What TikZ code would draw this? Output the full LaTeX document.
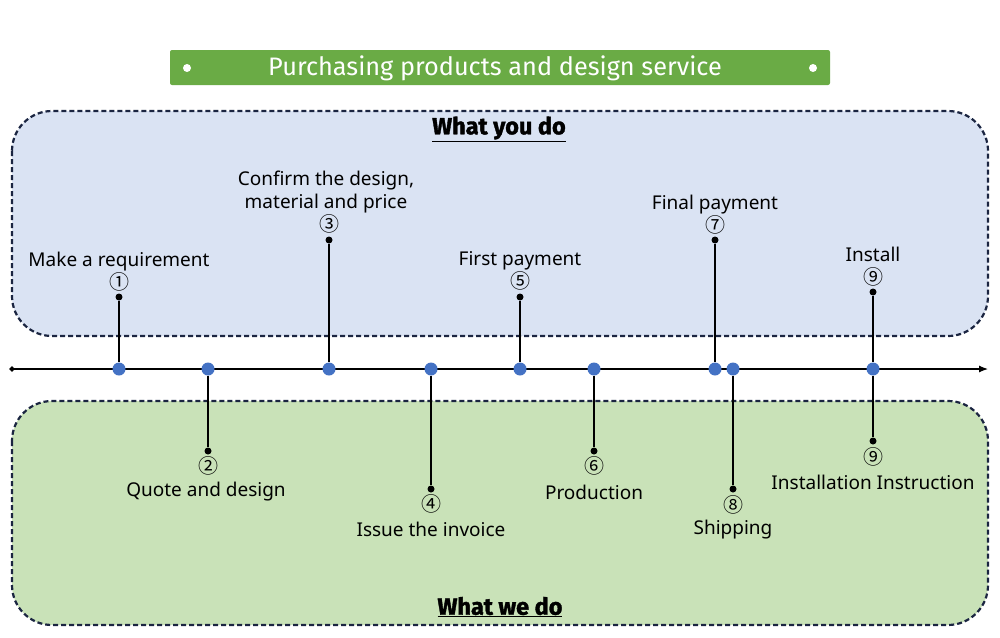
\documentclass[tikz,border=0pt]{standalone}
\usepackage{fontspec}
\usetikzlibrary{arrows.meta,shapes.geometric}
\setmainfont{Noto Sans}
\newfontfamily\numfont{Noto Sans CJK SC}
\newfontfamily\titlefont{Fira Sans}
\newfontfamily\headfont[FakeBold=1.5]{Fira Sans}
\definecolor{bluebox}{HTML}{DAE3F3}
\definecolor{greenbox}{HTML}{C9E2B8}
\definecolor{navy}{HTML}{1B2541}
\definecolor{titlegreen}{HTML}{6AAB45}
\definecolor{dotblue}{HTML}{4472C4}
\begin{document}
\begin{tikzpicture}[x=1pt,y=-1pt,
  zone/.style={draw=navy,line width=2.2pt,dash pattern=on 5pt off 3pt,rounded corners=40pt},
  lbl/.style={font=\fontsize{19}{23}\selectfont,text=black,inner sep=0pt,yshift=-2pt},
  num/.style={font=\numfont\fontsize{20}{20}\selectfont,text=black,inner sep=0pt},
  head/.style={font=\headfont\bfseries\fontsize{23.5}{26}\selectfont,inner sep=0pt},
  bdot/.style={circle,fill=dotblue,inner sep=0pt,minimum size=13pt},
  kdot/.style={circle,fill=black,inner sep=0pt,minimum size=7pt},
  stem/.style={line width=1.3pt,black}]
\useasboundingbox (0,0) rectangle (1000,637);
% title
\node[fill=titlegreen,rounded corners=2pt,minimum width=660pt,minimum height=35pt,inner sep=0pt] (title) at (500,67.5) {};
\node[font=\titlefont\fontsize{25.3}{28}\selectfont,text=white] (ttext) at (495,68) {Purchasing products and design service};
\node[circle,fill=white,inner sep=0pt,minimum size=8pt] (tdl) at (187,68) {};
\node[circle,fill=white,inner sep=0pt,minimum size=8pt] (tdr) at (813,68) {};
% zones
\draw[zone,fill=bluebox] (12,111) rectangle (988,336);
\draw[zone,fill=greenbox] (12,401) rectangle (988,625);
\node[head] (hyou) at (499,129) {\underline{What you do}};
\node[head] (hwe) at (500,607) {\underline{What we do}};
% axis
\coordinate (axl) at (12,369);
\coordinate (axr) at (988,369);
\draw[line width=1.2pt,-{Latex[length=9pt,width=7pt]}] (axl) -- (axr);
\node[diamond,fill=black,inner sep=0pt,minimum size=6pt] (axd) at (12,369) {};
% upper steps
\node[kdot] (k1) at (119,297) {};
\node[bdot] (b1) at (119,369) {};
\draw[stem] (k1) -- (b1);
\node[num] (n1) at (119,282) {①};
\node[lbl] (l1) at (119,260) {Make a requirement};
\node[kdot] (k5) at (520,297) {};
\node[bdot] (b5) at (520,369) {};
\draw[stem] (k5) -- (b5);
\node[num] (n5) at (520,281) {⑤};
\node[lbl] (l5) at (520,259) {First payment};
\node[kdot] (k9) at (873,292) {};
\node[kdot] (k9b) at (873,441) {};
\node[bdot] (b9) at (873,369) {};
\draw[stem] (k9) -- (b9);
\draw[stem] (b9) -- (k9b);
\node[num] (n9) at (873,277) {⑨};
\node[lbl] (l9) at (873,252) {Install};
\node[kdot] (k3) at (329,240) {};
\node[bdot] (b3) at (329,369) {};
\draw[stem] (k3) -- (b3);
\node[num] (n3) at (329,224) {③};
\node[lbl,align=center] (l3) at (326,190.5) {Confirm the design,\\material and price};
\node[kdot] (k7) at (715,240) {};
\node[bdot] (b7) at (715,369) {};
\draw[stem] (k7) -- (b7);
\node[num] (n7) at (715,225) {⑦};
\node[lbl] (l7) at (715,203) {Final payment};
% lower steps
\node[kdot] (k2) at (208,451) {};
\node[bdot] (b2) at (208,369) {};
\draw[stem] (b2) -- (k2);
\node[num] (n2) at (208,466) {②};
\node[lbl] (l2) at (206,490) {Quote and design};
\node[kdot] (k4) at (431,489) {};
\node[bdot] (b4) at (431,369) {};
\draw[stem] (b4) -- (k4);
\node[num] (n4) at (431,504) {④};
\node[lbl] (l4) at (431,527) {Issue the invoice};
\node[kdot] (k6) at (594,451) {};
\node[bdot] (b6) at (594,369) {};
\draw[stem] (b6) -- (k6);
\node[num] (n6) at (594,466) {⑥};
\node[lbl] (l6) at (594,490) {Production};
\node[kdot] (k8) at (733,489) {};
\node[bdot] (b8) at (733,369) {};
\draw[stem] (b8) -- (k8);
\node[num] (n8) at (733,505) {⑧};
\node[lbl] (l8) at (733,528) {Shipping};
\node[num] (n9b) at (873,457) {⑨};
\node[lbl] (l9b) at (873,480) {Installation Instruction};
\end{tikzpicture}
\end{document}
